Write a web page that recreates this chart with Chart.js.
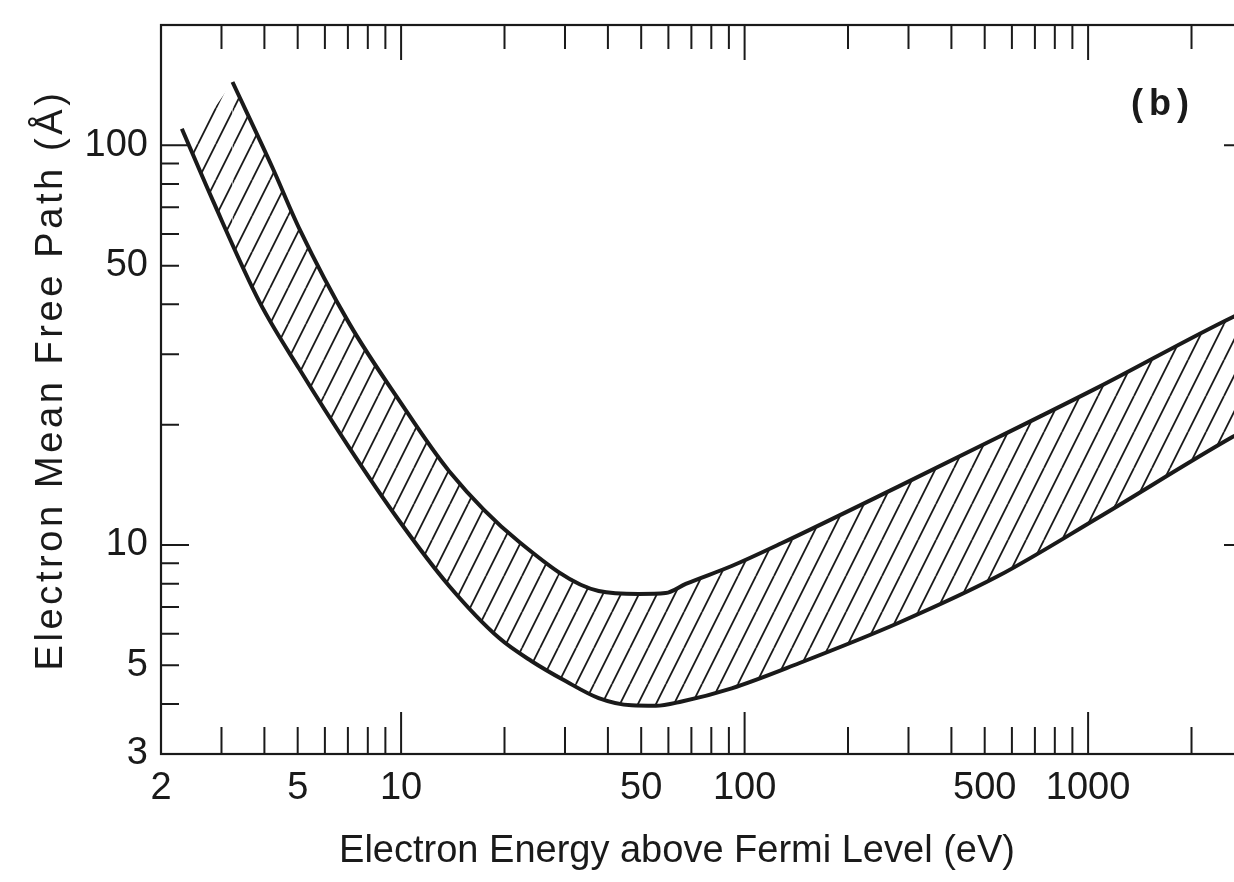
<!DOCTYPE html>
<html>
<head>
<meta charset="utf-8">
<script src="https://cdn.jsdelivr.net/npm/chart.js@4.4.1/dist/chart.umd.min.js"></script>
<style>
  html, body { margin: 0; padding: 0; background: #fff; overflow: hidden; }
  #wrap { width: 1264px; height: 882px; }
</style>
</head>
<body>
<div id="wrap"><canvas id="mfpChart"></canvas></div>
<script>
// axis ticks (log decades, inward marks on all four sides)
const energyTicks = [2, 3, 4, 5, 6, 7, 8, 9, 10, 20, 30, 40, 50, 60, 70, 80, 90,
  100, 200, 300, 400, 500, 600, 700, 800, 900, 1000, 2000, 3000];
const energyLabels = [2, 5, 10, 50, 100, 500, 1000];
const energyMajor = [10, 100, 1000];
const pathTicks = [3, 4, 5, 6, 7, 8, 9, 10, 20, 30, 40, 50, 60, 70, 80, 90, 100, 200];
const pathLabels = [3, 5, 10, 50, 100];
const pathMajor = [10, 100];

// upper edge of the band
const upperEnergy = [3.23, 4.22, 5.05, 7.07, 9.87, 13.8, 22.0, 37.6, 49.2, 58.9, 67.4, 91.7, 128, 280, 547, 1069, 2622, 3000];
const upperPath = [144, 88, 62, 35.8, 23.0, 15.3, 10.2, 7.67, 7.54, 7.58, 7.99, 8.86, 10.1, 14.0, 18.6, 24.8, 37.1, 39.1];

// lower edge of the band
const lowerEnergy = [2.30, 2.83, 3.88, 5.05, 7.07, 9.87, 13.8, 19.3, 24.0, 30.2, 37.6, 46.9, 55.1, 65.6, 91.7, 144, 280, 547, 1069, 2622, 3000];
const lowerPath = [110, 72.8, 40.4, 27.6, 17.5, 11.5, 7.9, 5.85, 5.12, 4.56, 4.14, 3.97, 3.96, 4.06, 4.38, 5.06, 6.38, 8.36, 11.7, 18.6, 19.8];

// open left edge of the hatching (first stroke, lower line to upper start)
const hatchEdgeEnergy = [2.43, 3.23];
const hatchEdgePath = [101, 144];

const xTitle = "Electron Energy above Fermi Level (eV)";
const yTitle = "Electron Mean Free Path (Å)";
const panelTag = "(b)";

const ink = "#1a1a1a";
const family = '"Liberation Sans", Arial, sans-serif';

function makeHatch() {
  const c = document.createElement("canvas");
  c.width = 18;
  c.height = 36;
  const g = c.getContext("2d");
  g.strokeStyle = ink;
  g.lineWidth = 1.8;
  g.beginPath();
  for (const dx of [-18, 0, 18]) {
    g.moveTo(dx, 36);
    g.lineTo(dx + 18, 0);
  }
  g.stroke();
  return g.createPattern(c, "repeat");
}
const hatch = makeHatch();

const frameTicks = {
  id: "frameTicks",
  afterDraw(chart) {
    const { ctx, chartArea: a, scales: { x, y } } = chart;
    ctx.save();
    ctx.strokeStyle = ink;
    ctx.lineWidth = 2.2;
    ctx.strokeRect(a.left, a.top, a.right - a.left, a.bottom - a.top);

    ctx.lineWidth = 2;
    ctx.beginPath();
    energyTicks.forEach(v => {
      const px = x.getPixelForValue(v);
      const major = energyMajor.includes(v);
      ctx.moveTo(px, a.bottom);
      ctx.lineTo(px, a.bottom - (major ? 42 : 27));
      ctx.moveTo(px, a.top);
      ctx.lineTo(px, a.top + (major ? 35 : 24));
    });
    pathTicks.forEach(v => {
      const py = y.getPixelForValue(v);
      const len = pathMajor.includes(v) ? 28 : 18;
      ctx.moveTo(a.left, py);
      ctx.lineTo(a.left + len, py);
      ctx.moveTo(a.right, py);
      ctx.lineTo(a.right - len, py);
    });
    ctx.stroke();

    ctx.fillStyle = ink;
    ctx.textAlign = "center";
    ctx.textBaseline = "middle";
    ctx.font = "38px " + family;
    ctx.fillText(xTitle, 677, 852);

    ctx.save();
    ctx.translate(52, 380);
    ctx.rotate(-Math.PI / 2);
    ctx.letterSpacing = "3.6px";
    ctx.fillText(yTitle, 0, 0);
    ctx.restore();

    ctx.font = "bold 36px " + family;
    ctx.letterSpacing = "6px";
    ctx.fillText(panelTag, 1163, 105);
    ctx.restore();
  }
};

const tickFont = { family: family, size: 38 };
const toPoints = (xs, ys) => xs.map((e, i) => ({ x: e, y: ys[i] }));

new Chart(document.getElementById("mfpChart"), {
  type: "line",
  data: {
    datasets: [
      {
        label: "Upper",
        data: toPoints(upperEnergy, upperPath),
        borderColor: ink,
        borderWidth: 4,
        pointRadius: 0,
        cubicInterpolationMode: "monotone",
        fill: "+1",
        backgroundColor: hatch
      },
      {
        label: "Lower",
        data: toPoints(lowerEnergy, lowerPath),
        borderColor: ink,
        borderWidth: 4,
        pointRadius: 0,
        cubicInterpolationMode: "monotone",
        fill: false
      },
      {
        label: "Hatch edge",
        data: toPoints(hatchEdgeEnergy, hatchEdgePath),
        borderWidth: 0,
        borderColor: "rgba(0,0,0,0)",
        pointRadius: 0,
        tension: 0,
        fill: 1,
        backgroundColor: hatch
      }
    ]
  },
  options: {
    responsive: true,
    maintainAspectRatio: false,
    animation: false,
    layout: { padding: { top: 25, right: 12, left: 0, bottom: 0 } },
    plugins: { legend: { display: false }, tooltip: { enabled: false } },
    scales: {
      x: {
        type: "logarithmic",
        min: 2,
        max: 3000,
        afterBuildTicks: s => { s.ticks = energyTicks.map(v => ({ value: v })); },
        afterFit: s => { s.height = 128; s.paddingLeft = 0; s.paddingRight = 0; },
        grid: { display: false, drawTicks: false },
        border: { display: false },
        ticks: {
          autoSkip: false,
          maxRotation: 0,
          padding: 12,
          color: ink,
          font: tickFont,
          callback: v => energyLabels.includes(v) ? String(v) : ""
        }
      },
      y: {
        type: "logarithmic",
        min: 3,
        max: 200,
        afterBuildTicks: s => { s.ticks = pathTicks.map(v => ({ value: v })); },
        afterFit: s => { s.width = 161; s.paddingTop = 0; s.paddingBottom = 0; },
        grid: { display: false, drawTicks: false },
        border: { display: false },
        ticks: {
          autoSkip: false,
          padding: 13,
          color: ink,
          font: tickFont,
          callback: v => pathLabels.includes(v) ? String(v) : ""
        }
      }
    }
  },
  plugins: [frameTicks]
});
</script>
</body>
</html>
